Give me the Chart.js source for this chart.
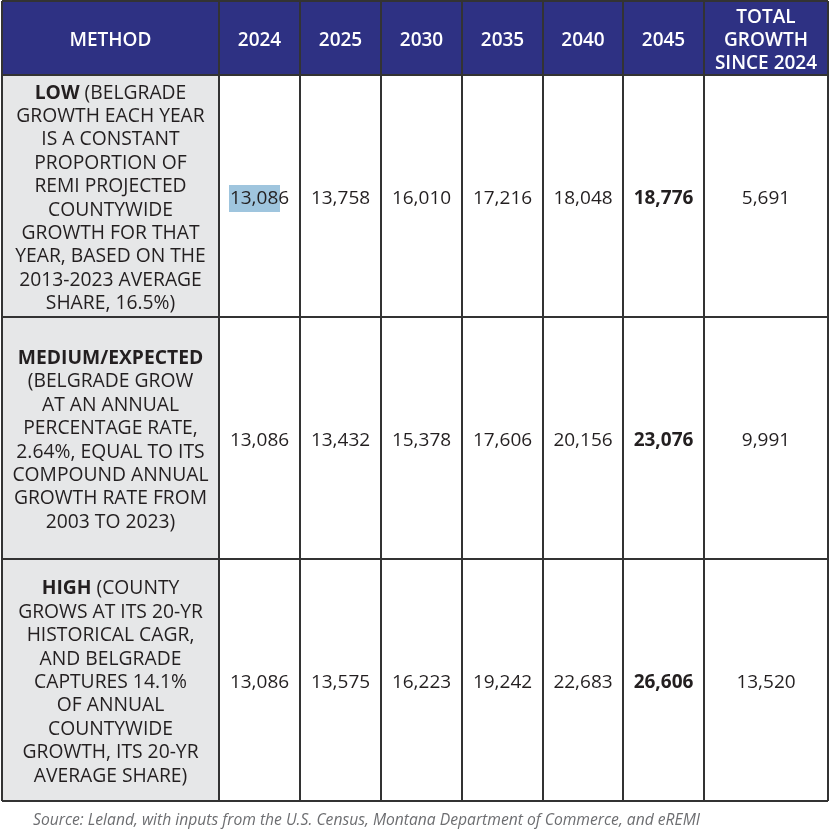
<!DOCTYPE html>
<html>
<head>
<meta charset="utf-8">
<title>Belgrade population projections</title>
<script src="https://cdn.jsdelivr.net/npm/chart.js@4.4.1/dist/chart.umd.min.js"></script>
<style>
  html, body { margin: 0; padding: 0; background: #fff; }
  #wrap { width: 832px; height: 839px; position: relative; }
</style>
</head>
<body>
<div id="wrap"><canvas id="tableChart"></canvas></div>
<script>
const years = ['2024', '2025', '2030', '2035', '2040', '2045'];
const lowValues = [13086, 13758, 16010, 17216, 18048, 18776];
const mediumValues = [13086, 13432, 15378, 17606, 20156, 23076];
const highValues = [13086, 13575, 16223, 19242, 22683, 26606];
const totalGrowth = [5691, 9991, 13520];
const methodNames = ['LOW', 'MEDIUM/EXPECTED', 'HIGH'];
const methodNotes = [
    [' (BELGRADE', 'GROWTH EACH YEAR', 'IS A CONSTANT', 'PROPORTION OF', 'REMI PROJECTED', 'COUNTYWIDE',
     'GROWTH FOR THAT', 'YEAR, BASED ON THE', '2013-2023 AVERAGE', 'SHARE, 16.5%)'],
    ['', '(BELGRADE GROW', 'AT AN ANNUAL', 'PERCENTAGE RATE,', '2.64%, EQUAL TO ITS', 'COMPOUND ANNUAL',
     'GROWTH RATE FROM', '2003 TO 2023)'],
    [' (COUNTY', 'GROWS AT ITS 20-YR', 'HISTORICAL CAGR,', 'AND BELGRADE', 'CAPTURES 14.1%', 'OF ANNUAL',
     'COUNTYWIDE', 'GROWTH, ITS 20-YR', 'AVERAGE SHARE)']
];
const headerLabels = ['METHOD'].concat(years, [['TOTAL', 'GROWTH', 'SINCE 2024']]);
const sourceNote = 'Source: Leland, with inputs from the U.S. Census, Montana Department of Commerce, and eREMI';

// layout (scale units = page pixels)
const colEdges = [2, 219, 300, 381, 462, 543, 623, 704, 828];
const rowEdges = [1, 75, 317, 559, 801];
const TEXT = '#231f20';
const FONT = '"Open Sans", "DejaVu Sans", sans-serif';
const NUDGE = 2.5; // text sits a little below cell centre

function mid(edges, i) { return (edges[i] + edges[i + 1]) / 2; }

const rows = [lowValues, mediumValues, highValues];
const datasets = rows.map(function (vals, r) {
    let pts = vals.map(function (v, c) {
        return { x: mid(colEdges, c + 1), y: mid(rowEdges, r + 1) + NUDGE, v: v, bold: c === years.length - 1 };
    });
    pts.push({ x: mid(colEdges, 7), y: mid(rowEdges, r + 1) + NUDGE, v: totalGrowth[r], bold: false });
    return { label: methodNames[r], data: pts, pointRadius: 0, showLine: false };
});

const tablePlugin = {
    id: 'tablePlugin',
    afterDraw: function (chart) {
        const ctx = chart.ctx;
        const xs = chart.scales.x, ys = chart.scales.y;
        const px = function (v) { return xs.getPixelForValue(v); };
        const py = function (v) { return ys.getPixelForValue(v); };
        const left = px(colEdges[0]), right = px(colEdges[colEdges.length - 1]);
        const top = py(rowEdges[0]), bottom = py(rowEdges[rowEdges.length - 1]);

        ctx.save();
        // header band and method column
        ctx.fillStyle = '#2e3183';
        ctx.fillRect(left, top, right - left, py(rowEdges[1]) - top);
        ctx.fillStyle = '#e6e7e8';
        ctx.fillRect(left, py(rowEdges[1]), px(colEdges[1]) - left, bottom - py(rowEdges[1]));

        // selection highlight on the first value
        ctx.fillStyle = '#9fc5de';
        ctx.fillRect(px(229), py(185), px(280) - px(229), py(212) - py(185));

        // header text
        ctx.fillStyle = '#ffffff';
        ctx.textAlign = 'center';
        ctx.textBaseline = 'middle';
        ctx.font = '600 19px ' + FONT;
        headerLabels.forEach(function (lab, c) {
            const cx = px(mid(colEdges, c)), cy = py(mid(rowEdges, 0) + NUDGE);
            const lines = Array.isArray(lab) ? lab : [lab];
            lines.forEach(function (t, i) {
                ctx.fillText(t, cx, cy + (i - (lines.length - 1) / 2) * 23);
            });
        });

        // values
        ctx.fillStyle = TEXT;
        chart.data.datasets.forEach(function (ds, di) {
            const meta = chart.getDatasetMeta(di);
            meta.data.forEach(function (el, i) {
                const p = ds.data[i];
                ctx.font = (p.bold ? 'bold ' : '') + '19px ' + FONT;
                ctx.fillText(p.v.toLocaleString('en-US'), el.x, el.y);
            });
        });

        // method descriptions
        const mx = px(mid(colEdges, 0));
        const fs = '19.3px ';
        methodNotes.forEach(function (lines, r) {
            const cy = py(mid(rowEdges, r + 1) + NUDGE);
            const lh = 23.4;
            lines.forEach(function (t, i) {
                const y = cy + (i - (lines.length - 1) / 2) * lh;
                if (i === 0) {
                    ctx.font = 'bold ' + fs + FONT;
                    const wb = ctx.measureText(methodNames[r]).width;
                    ctx.font = fs + FONT;
                    const wr = ctx.measureText(t).width;
                    const x0 = mx - (wb + wr) / 2;
                    ctx.textAlign = 'left';
                    ctx.font = 'bold ' + fs + FONT;
                    ctx.fillText(methodNames[r], x0, y);
                    ctx.font = fs + FONT;
                    ctx.fillText(t, x0 + wb, y);
                    ctx.textAlign = 'center';
                } else {
                    ctx.font = fs + FONT;
                    ctx.fillText(t, mx, y);
                }
            });
        });

        // grid lines
        ctx.strokeStyle = '#333333';
        ctx.lineWidth = 2;
        ctx.beginPath();
        colEdges.forEach(function (e) { ctx.moveTo(px(e), top); ctx.lineTo(px(e), bottom); });
        rowEdges.forEach(function (e) { ctx.moveTo(left, py(e)); ctx.lineTo(right, py(e)); });
        ctx.stroke();

        // source note, stretched to its width in the reference
        ctx.fillStyle = '#6d6e71';
        ctx.textAlign = 'left';
        ctx.font = 'italic 16px ' + FONT;
        const w = ctx.measureText(sourceNote).width;
        const target = px(700) - px(33);
        ctx.translate(px(33), py(820));
        ctx.scale(target / w, 1);
        ctx.fillText(sourceNote, 0, 0);
        ctx.restore();
    }
};

new Chart(document.getElementById('tableChart'), {
    type: 'scatter',
    data: { datasets: datasets },
    options: {
        responsive: true,
        maintainAspectRatio: false,
        animation: false,
        layout: { padding: 0 },
        scales: {
            x: { type: 'linear', min: 0, max: 832, display: false },
            y: { type: 'linear', min: 0, max: 839, reverse: true, display: false }
        },
        plugins: { legend: { display: false }, tooltip: { enabled: false } }
    },
    plugins: [tablePlugin]
});
</script>
</body>
</html>
